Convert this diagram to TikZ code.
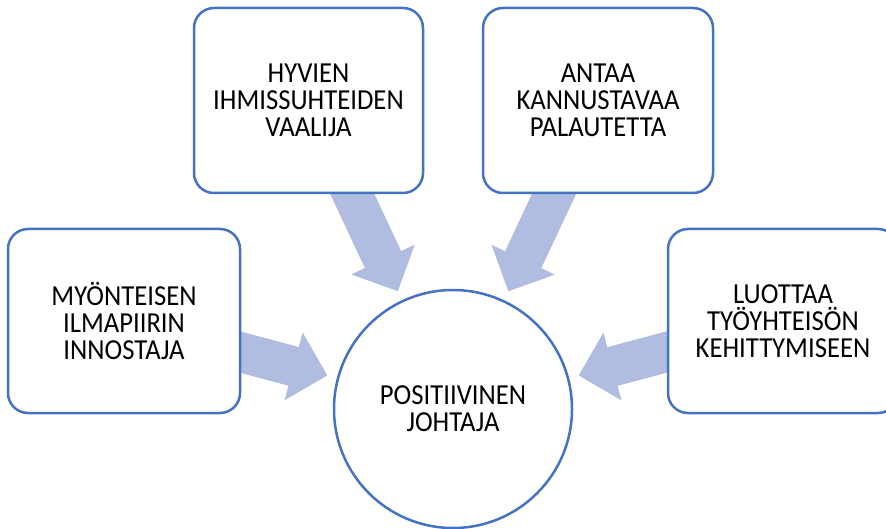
\documentclass[tikz,border=0pt]{standalone}
\usepackage{fontspec}
\setmainfont{Carlito}[FakeStretch=0.92]
\usetikzlibrary{arrows.meta,calc}
\definecolor{edgeblue}{HTML}{4472C4}
\definecolor{arrowblue}{HTML}{B0BDE0}
\tikzset{
  labeltext/.style={align=center, font=\fontsize{29}{27}\selectfont, text=black},
  roundbox/.style={labeltext, draw=edgeblue, line width=2.5pt, fill=white,
    rounded corners=20pt, inner sep=0pt},
  hubcircle/.style={labeltext, circle, draw=edgeblue, line width=2.5pt, fill=white,
    minimum size=238pt, inner sep=0pt},
  fatarrow/.style={draw=arrowblue, line width=40pt,
    -{Triangle[width=68pt,length=35pt,fill=arrowblue]}}
}
\begin{document}
\begin{tikzpicture}[x=1pt,y=-1pt]
  \useasboundingbox (0,0) rectangle (886,529);
  \clip (0,0) rectangle (886,529);
  % hub and the four boxes (positions only, drawn after the arrows)
  \coordinate (hubc) at (453,409);
  \coordinate (tlc) at (308.5,100.5);
  \coordinate (trc) at (598,100.5);
  \coordinate (lc) at (124,321);
  \coordinate (rc) at (783,321);
  % arrows pointing from each box toward the hub
  \foreach \b in {tlc,trc,lc,rc}{
    \draw[fatarrow] (\b) -- ($(hubc)!130pt!(\b)$);
  }
  % boxes
  \node[roundbox, minimum width=229pt, minimum height=185pt] (tl) at (tlc)
    {HYVIEN\\IHMISSUHTEIDEN\\VAALIJA};
  \node[roundbox, minimum width=230pt, minimum height=185pt] (tr) at (trc)
    {ANTAA\\KANNUSTAVAA\\PALAUTETTA};
  \node[roundbox, minimum width=232pt, minimum height=184pt] (l) at (lc)
    {MYÖNTEISEN\\ILMAPIIRIN\\INNOSTAJA};
  \node[roundbox, minimum width=230pt, minimum height=184pt] (r) at (rc)
    {LUOTTAA\\TYÖYHTEISÖN\\KEHITTYMISEEN};
  % central circle
  \node[hubcircle] (hub) at (hubc) {POSITIIVINEN\\JOHTAJA};
\end{tikzpicture}
\end{document}
